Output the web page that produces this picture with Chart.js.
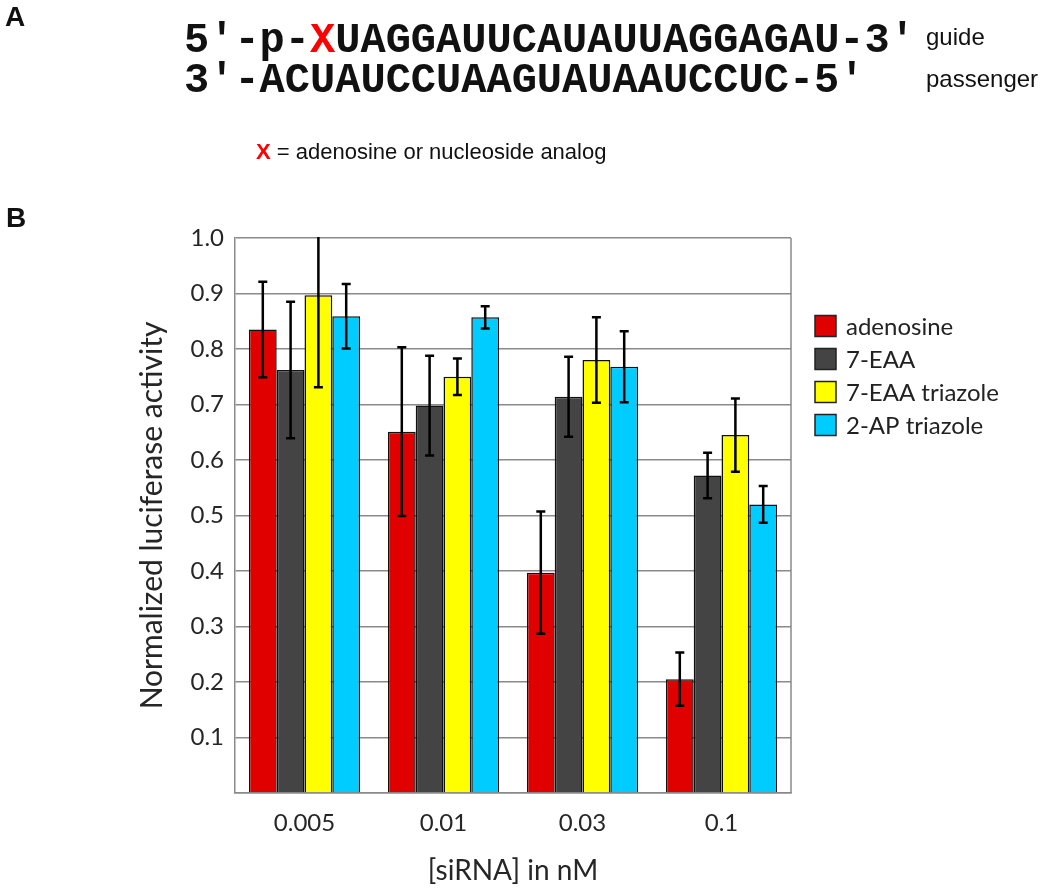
<!DOCTYPE html>
<html>
<head>
<meta charset="utf-8">
<script src="https://cdn.jsdelivr.net/npm/chart.js@4.4.1/dist/chart.umd.min.js"></script>
<style>
  body { margin: 0; background: #fff; }
  .wrap { position: relative; width: 1050px; height: 888px; }
  .wrap canvas { position: absolute; left: 0; top: 0; }
  .txt { position: absolute; line-height: 1; white-space: pre; color: #111; }
  .panel { font-family: "Liberation Sans", Arial, sans-serif; font-weight: bold; font-size: 28px; }
  .seq { font-family: "Liberation Mono", "Courier New", monospace; font-weight: bold; font-size: 42px; }
  .note { font-family: "Liberation Sans", Arial, sans-serif; font-size: 24px; }
  .key { font-family: "Liberation Sans", Arial, sans-serif; font-size: 22px; }
  .red { color: #ff0000; }
</style>
</head>
<body>
<div class="wrap">
  <canvas id="chart" width="1050" height="888"></canvas>
  <div class="txt panel" style="left:5px; top:3px;">A</div>
  <div class="txt seq" style="left:184px; top:20px;">5′-p-<span class="red">X</span>UAGGAUUCAUAUUAGGAGAU-3'</div>
  <div class="txt seq" style="left:184px; top:60px;">3′-ACUAUCCUAAGUAUAAUCCUC-5′</div>
  <div class="txt note" style="left:926px; top:25px;">guide</div>
  <div class="txt note" style="left:926px; top:67px;">passenger</div>
  <div class="txt key" style="left:256px; top:141px;"><b class="red">X</b> = adenosine or nucleoside analog</div>
  <div class="txt panel" style="left:6px; top:204px;">B</div>
</div>
<script>
// siRNA concentrations (nM)
const concentrations = ['0.005', '0.01', '0.03', '0.1'];

// mean normalized luciferase activity and error (+/-) per analog
const adenosine = [0.835, 0.651, 0.397, 0.205];
const adenosineErr = [0.086, 0.152, 0.110, 0.048];
const eaa = [0.762, 0.698, 0.714, 0.572];
const eaaErr = [0.123, 0.090, 0.072, 0.041];
const eaaTriazole = [0.897, 0.750, 0.780, 0.645];
const eaaTriazoleErr = [0.166, 0.033, 0.077, 0.066];
const apTriazole = [0.859, 0.857, 0.768, 0.520];
const apTriazoleErr = [0.058, 0.020, 0.064, 0.033];

const seriesNames = ['adenosine', '7-EAA', '7-EAA triazole', '2-AP triazole'];
const seriesValues = [adenosine, eaa, eaaTriazole, apTriazole];
const seriesErrors = [adenosineErr, eaaErr, eaaTriazoleErr, apTriazoleErr];
const seriesColors = ['#e00000', '#444444', '#ffff00', '#00ccff'];

const yTicks = { min: 0, max: 1.0, step: 0.1 };

const FONT = 'Lato, Calibri, "Open Sans", sans-serif';
const GRID = '#8a8a8a';

// error bars, right plot border and the legend
const extras = {
  id: 'extras',
  beforeDatasetsDraw(chart) {
    const { ctx, chartArea } = chart;
    ctx.save();
    ctx.strokeStyle = GRID;
    ctx.lineWidth = 1.5;
    ctx.beginPath();
    ctx.moveTo(chartArea.right, chartArea.top);
    ctx.lineTo(chartArea.right, chartArea.bottom);
    ctx.stroke();
    ctx.restore();
  },
  afterDatasetsDraw(chart) {
    const { ctx, chartArea } = chart;
    const yScale = chart.scales.y;
    ctx.save();
    ctx.beginPath();
    ctx.rect(chartArea.left, chartArea.top - 1, chartArea.right - chartArea.left, chartArea.bottom - chartArea.top + 1);
    ctx.clip();
    ctx.strokeStyle = '#000';
    ctx.lineWidth = 2.5;
    chart.data.datasets.forEach((ds, i) => {
      const meta = chart.getDatasetMeta(i);
      meta.data.forEach((bar, j) => {
        const v = ds.data[j];
        const e = ds.errors[j];
        const yt = yScale.getPixelForValue(v + e);
        const yb = yScale.getPixelForValue(v - e);
        const cap = 4.5;
        ctx.beginPath();
        ctx.moveTo(bar.x, yt);
        ctx.lineTo(bar.x, yb);
        ctx.moveTo(bar.x - cap, yt);
        ctx.lineTo(bar.x + cap, yt);
        ctx.moveTo(bar.x - cap, yb);
        ctx.lineTo(bar.x + cap, yb);
        ctx.stroke();
      });
    });
    ctx.restore();
  },
  afterDraw(chart) {
    const { ctx, chartArea } = chart;
    const x0 = chartArea.right + 24;
    const y0 = chartArea.top + 88;
    ctx.save();
    ctx.font = '24px ' + FONT;
    ctx.textBaseline = 'middle';
    chart.data.datasets.forEach((ds, i) => {
      const yc = y0 + i * 33;
      ctx.fillStyle = ds.backgroundColor;
      ctx.fillRect(x0, yc - 10.5, 21, 21);
      ctx.strokeStyle = '#222';
      ctx.lineWidth = 1.5;
      ctx.strokeRect(x0, yc - 10.5, 21, 21);
      ctx.fillStyle = '#222';
      ctx.fillText(ds.label, x0 + 31, yc + 1);
    });
    ctx.restore();
  }
};

const ctx = document.getElementById('chart').getContext('2d');
new Chart(ctx, {
  type: 'bar',
  data: {
    labels: concentrations,
    datasets: seriesNames.map((name, i) => ({
      label: name,
      data: seriesValues[i],
      errors: seriesErrors[i],
      backgroundColor: seriesColors[i],
      borderColor: '#111',
      borderWidth: 1.5,
      categoryPercentage: 0.8,
      barPercentage: 1.0
    }))
  },
  options: {
    responsive: false,
    animation: false,
    layout: { padding: { left: 132, top: 238, right: 259, bottom: 0 } },
    plugins: {
      legend: { display: false },
      tooltip: { enabled: false }
    },
    scales: {
      x: {
        grid: { display: false, drawTicks: false },
        border: { display: true, color: GRID, width: 1.5 },
        ticks: { color: '#262626', font: { family: FONT, size: 24 }, padding: 16 },
        title: {
          display: true,
          text: '[siRNA] in nM',
          color: '#262626',
          font: { family: FONT, size: 28 },
          padding: { top: 0, bottom: 0 }
        },
        afterFit(scale) { scale.height = 95; }
      },
      y: {
        min: yTicks.min,
        max: yTicks.max,
        grid: { color: GRID, lineWidth: 1.5, drawTicks: false },
        border: { display: true, color: GRID, width: 1.5 },
        ticks: {
          stepSize: yTicks.step,
          color: '#262626',
          font: { family: FONT, size: 24 },
          padding: 11,
          callback: v => (v === 0 ? '' : Number(v).toFixed(1))
        },
        title: {
          display: true,
          text: 'Normalized luciferase activity',
          color: '#262626',
          font: { family: FONT, size: 30 },
          padding: { top: 2, bottom: 2 }
        },
        afterFit(scale) { scale.width = 103; }
      }
    }
  },
  plugins: [extras]
});
</script>
</body>
</html>
